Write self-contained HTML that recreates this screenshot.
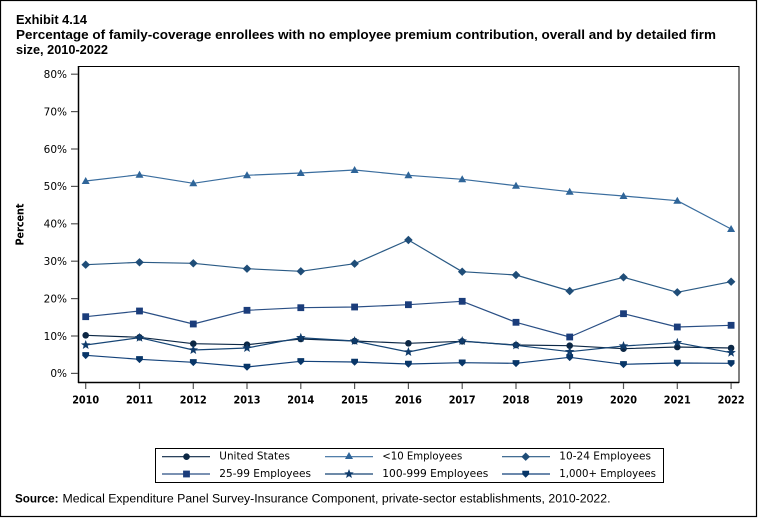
<!DOCTYPE html>
<html><head><meta charset="utf-8"><style>
html,body{margin:0;padding:0;background:#fff;}
svg{display:block;}
.t{font-family:"Liberation Sans",Arial,sans-serif;font-weight:bold;font-size:13px;fill:#000;}
.yl{font-family:"DejaVu Sans",Verdana,sans-serif;font-size:10.5px;fill:#000;}
.xl{font-family:"DejaVu Sans",Verdana,sans-serif;font-size:10.5px;font-weight:bold;fill:#000;}
.lg{font-family:"DejaVu Sans",Verdana,sans-serif;font-size:10.5px;fill:#000;}
.src{font-family:"Liberation Sans",Arial,sans-serif;font-size:11.5px;fill:#000;}
</style></head><body>
<svg width="758" height="518" viewBox="0 0 758 518" xmlns="http://www.w3.org/2000/svg">
<defs>
<circle id="mc" cx="0" cy="0" r="3.3"/>
<path id="mt" d="M0,-4 L4,3 L-4,3 Z"/>
<path id="md" d="M0,-4.2 L4.3,0 L0,4.2 L-4.3,0 Z"/>
<rect id="ms" x="-3.4" y="-3.4" width="6.8" height="6.8"/>
<path id="mst" d="M0,-5 L1.234,-1.699 L4.755,-1.545 L1.997,0.649 L2.939,4.045 L0,2.1 L-2.939,4.045 L-1.997,0.649 L-4.755,-1.545 L-1.234,-1.699 Z"/>
<path id="mv" d="M-3.4,-3.2 L3.4,-3.2 L3.4,0.4 L0,3.8 L-3.4,0.4 Z"/>
</defs>
<rect x="0.5" y="0.5" width="756" height="516" fill="#fff" stroke="#000" stroke-width="1.2"/>

<text class="t" x="16" y="24" textLength="71" lengthAdjust="spacingAndGlyphs">Exhibit 4.14</text>
<text class="t" x="16" y="39" textLength="700" lengthAdjust="spacingAndGlyphs">Percentage of family-coverage enrollees with no employee premium contribution, overall and by detailed firm</text>
<text class="t" x="16" y="54" textLength="92" lengthAdjust="spacingAndGlyphs">size, 2010-2022</text>

<!-- plot frame -->
<rect x="78.5" y="66.5" width="660.5" height="316" fill="none" stroke="#000" stroke-width="1"/>
<line x1="78.5" y1="66" x2="78.5" y2="383" stroke="#000" stroke-width="1.5"/>
<line x1="78" y1="382.5" x2="739" y2="382.5" stroke="#000" stroke-width="1.5"/>

<!-- y ticks -->
<g stroke="#555" stroke-width="1.2">
<line x1="71" y1="74.2" x2="78" y2="74.2"/>
<line x1="71" y1="111.6" x2="78" y2="111.6"/>
<line x1="71" y1="149" x2="78" y2="149"/>
<line x1="71" y1="186.4" x2="78" y2="186.4"/>
<line x1="71" y1="223.8" x2="78" y2="223.8"/>
<line x1="71" y1="261.2" x2="78" y2="261.2"/>
<line x1="71" y1="298.6" x2="78" y2="298.6"/>
<line x1="71" y1="336" x2="78" y2="336"/>
<line x1="71" y1="373.4" x2="78" y2="373.4"/>
</g>
<g class="yl" text-anchor="end">
<text x="67" y="78">80%</text>
<text x="67" y="115.4">70%</text>
<text x="67" y="152.8">60%</text>
<text x="67" y="190.2">50%</text>
<text x="67" y="227.6">40%</text>
<text x="67" y="265">30%</text>
<text x="67" y="302.4">20%</text>
<text x="67" y="339.8">10%</text>
<text x="67" y="377.2">0%</text>
</g>
<text class="xl" transform="translate(23.5,224.5) rotate(-90)" text-anchor="middle" font-size="10px" textLength="42" lengthAdjust="spacingAndGlyphs">Percent</text>

<!-- x ticks -->
<g stroke="#555" stroke-width="1.2">
<line x1="85.7" y1="383" x2="85.7" y2="389"/>
<line x1="139.5" y1="383" x2="139.5" y2="389"/>
<line x1="193.3" y1="383" x2="193.3" y2="389"/>
<line x1="247" y1="383" x2="247" y2="389"/>
<line x1="300.8" y1="383" x2="300.8" y2="389"/>
<line x1="354.6" y1="383" x2="354.6" y2="389"/>
<line x1="408.4" y1="383" x2="408.4" y2="389"/>
<line x1="462.2" y1="383" x2="462.2" y2="389"/>
<line x1="516" y1="383" x2="516" y2="389"/>
<line x1="569.7" y1="383" x2="569.7" y2="389"/>
<line x1="623.5" y1="383" x2="623.5" y2="389"/>
<line x1="677.3" y1="383" x2="677.3" y2="389"/>
<line x1="731.1" y1="383" x2="731.1" y2="389"/>
</g>
<g class="xl">
<text x="72.2" y="403.3" textLength="27" lengthAdjust="spacingAndGlyphs">2010</text>
<text x="126" y="403.3" textLength="27" lengthAdjust="spacingAndGlyphs">2011</text>
<text x="179.8" y="403.3" textLength="27" lengthAdjust="spacingAndGlyphs">2012</text>
<text x="233.5" y="403.3" textLength="27" lengthAdjust="spacingAndGlyphs">2013</text>
<text x="287.3" y="403.3" textLength="27" lengthAdjust="spacingAndGlyphs">2014</text>
<text x="341.1" y="403.3" textLength="27" lengthAdjust="spacingAndGlyphs">2015</text>
<text x="394.9" y="403.3" textLength="27" lengthAdjust="spacingAndGlyphs">2016</text>
<text x="448.7" y="403.3" textLength="27" lengthAdjust="spacingAndGlyphs">2017</text>
<text x="502.5" y="403.3" textLength="27" lengthAdjust="spacingAndGlyphs">2018</text>
<text x="556.2" y="403.3" textLength="27" lengthAdjust="spacingAndGlyphs">2019</text>
<text x="610" y="403.3" textLength="27" lengthAdjust="spacingAndGlyphs">2020</text>
<text x="663.8" y="403.3" textLength="27" lengthAdjust="spacingAndGlyphs">2021</text>
<text x="717.6" y="403.3" textLength="27" lengthAdjust="spacingAndGlyphs">2022</text>
</g>

<!-- series lines -->
<g fill="none" stroke-width="1.2" stroke-linejoin="round">
<polyline stroke="#3a6d9e" points="85.7,181 139.5,174.7 193.3,183.3 247,175.3 300.8,173 354.6,170 408.4,175.3 462.2,179.3 516,185.7 569.7,191.7 623.5,196 677.3,200.7 731.1,229"/>
<polyline stroke="#2a5a85" points="85.7,264.7 139.5,262.3 193.3,263.3 247,268.7 300.8,271.3 354.6,263.7 408.4,240 462.2,271.7 516,275 569.7,291 623.5,277.3 677.3,292.3 731.1,281.7"/>
<polyline stroke="#2a4f85" points="85.7,316.7 139.5,311 193.3,324 247,310.3 300.8,307.7 354.6,307 408.4,304.7 462.2,301.3 516,322.3 569.7,337 623.5,313.7 677.3,327 731.1,325.3"/>
<polyline stroke="#0d2846" points="85.7,335.3 139.5,337.3 193.3,343.7 247,344.7 300.8,339 354.6,341 408.4,343.3 462.2,341.3 516,345 569.7,345.7 623.5,348.7 677.3,347 731.1,348"/>
<polyline stroke="#164575" points="85.7,345 139.5,337.7 193.3,350 247,348 300.8,337.7 354.6,341 408.4,352 462.2,341 516,345.3 569.7,351.7 623.5,346 677.3,342.7 731.1,352.7"/>
<polyline stroke="#13427a" points="85.7,355.3 139.5,359.3 193.3,362.3 247,367 300.8,361.3 354.6,362 408.4,364 462.2,362.7 516,363.3 569.7,357.3 623.5,364.3 677.3,363 731.1,363.3"/>
</g>

<!-- markers -->
<g fill="#2f6599">
<use href="#mt" x="85.7" y="181"/><use href="#mt" x="139.5" y="174.7"/><use href="#mt" x="193.3" y="183.3"/><use href="#mt" x="247" y="175.3"/><use href="#mt" x="300.8" y="173"/><use href="#mt" x="354.6" y="170"/><use href="#mt" x="408.4" y="175.3"/><use href="#mt" x="462.2" y="179.3"/><use href="#mt" x="516" y="185.7"/><use href="#mt" x="569.7" y="191.7"/><use href="#mt" x="623.5" y="196"/><use href="#mt" x="677.3" y="200.7"/><use href="#mt" x="731.1" y="229"/>
</g>
<g fill="#1f4d78">
<use href="#md" x="85.7" y="264.7"/><use href="#md" x="139.5" y="262.3"/><use href="#md" x="193.3" y="263.3"/><use href="#md" x="247" y="268.7"/><use href="#md" x="300.8" y="271.3"/><use href="#md" x="354.6" y="263.7"/><use href="#md" x="408.4" y="240"/><use href="#md" x="462.2" y="271.7"/><use href="#md" x="516" y="275"/><use href="#md" x="569.7" y="291"/><use href="#md" x="623.5" y="277.3"/><use href="#md" x="677.3" y="292.3"/><use href="#md" x="731.1" y="281.7"/>
</g>
<g fill="#1b3d7b">
<use href="#ms" x="85.7" y="316.7"/><use href="#ms" x="139.5" y="311"/><use href="#ms" x="193.3" y="324"/><use href="#ms" x="247" y="310.3"/><use href="#ms" x="300.8" y="307.7"/><use href="#ms" x="354.6" y="307"/><use href="#ms" x="408.4" y="304.7"/><use href="#ms" x="462.2" y="301.3"/><use href="#ms" x="516" y="322.3"/><use href="#ms" x="569.7" y="337"/><use href="#ms" x="623.5" y="313.7"/><use href="#ms" x="677.3" y="327"/><use href="#ms" x="731.1" y="325.3"/>
</g>
<g fill="#0c2744">
<use href="#mc" x="85.7" y="335.3"/><use href="#mc" x="139.5" y="337.3"/><use href="#mc" x="193.3" y="343.7"/><use href="#mc" x="247" y="344.7"/><use href="#mc" x="300.8" y="339"/><use href="#mc" x="354.6" y="341"/><use href="#mc" x="408.4" y="343.3"/><use href="#mc" x="462.2" y="341.3"/><use href="#mc" x="516" y="345"/><use href="#mc" x="569.7" y="345.7"/><use href="#mc" x="623.5" y="348.7"/><use href="#mc" x="677.3" y="347"/><use href="#mc" x="731.1" y="348"/>
</g>
<g fill="#0f3b6b">
<use href="#mst" x="85.7" y="345"/><use href="#mst" x="139.5" y="337.7"/><use href="#mst" x="193.3" y="350"/><use href="#mst" x="247" y="348"/><use href="#mst" x="300.8" y="337.7"/><use href="#mst" x="354.6" y="341"/><use href="#mst" x="408.4" y="352"/><use href="#mst" x="462.2" y="341"/><use href="#mst" x="516" y="345.3"/><use href="#mst" x="569.7" y="351.7"/><use href="#mst" x="623.5" y="346"/><use href="#mst" x="677.3" y="342.7"/><use href="#mst" x="731.1" y="352.7"/>
</g>
<g fill="#083668">
<use href="#mv" x="85.7" y="355.3"/><use href="#mv" x="139.5" y="359.3"/><use href="#mv" x="193.3" y="362.3"/><use href="#mv" x="247" y="367"/><use href="#mv" x="300.8" y="361.3"/><use href="#mv" x="354.6" y="362"/><use href="#mv" x="408.4" y="364"/><use href="#mv" x="462.2" y="362.7"/><use href="#mv" x="516" y="363.3"/><use href="#mv" x="569.7" y="357.3"/><use href="#mv" x="623.5" y="364.3"/><use href="#mv" x="677.3" y="363"/><use href="#mv" x="731.1" y="363.3"/>
</g>

<!-- legend -->
<rect x="155.5" y="448.5" width="508" height="34" fill="none" stroke="#000" stroke-width="1"/>
<g stroke-width="1.2">
<line x1="162" y1="456.7" x2="210" y2="456.7" stroke="#0d2846"/>
<line x1="325" y1="456.7" x2="373" y2="456.7" stroke="#3a6d9e"/>
<line x1="502" y1="456.7" x2="550" y2="456.7" stroke="#2a5a85"/>
<line x1="162" y1="474" x2="210" y2="474" stroke="#2a4f85"/>
<line x1="325" y1="474" x2="373" y2="474" stroke="#164575"/>
<line x1="502" y1="474" x2="550" y2="474" stroke="#13427a"/>
</g>
<use href="#mc" x="186.5" y="456.7" fill="#0c2744"/>
<use href="#mt" x="349" y="456" fill="#2f6599"/>
<use href="#md" x="525.7" y="456.7" fill="#1f4d78"/>
<use href="#ms" x="186.5" y="474" fill="#1b3d7b"/>
<use href="#mst" x="349" y="474" fill="#0f3b6b"/>
<use href="#mv" x="525.7" y="474" fill="#083668"/>
<g class="lg">
<text x="219.3" y="459.5" textLength="70.7" lengthAdjust="spacingAndGlyphs">United States</text>
<text x="382.3" y="459.5" textLength="80" lengthAdjust="spacingAndGlyphs">&lt;10 Employees</text>
<text x="559.3" y="459.5" textLength="91.7" lengthAdjust="spacingAndGlyphs">10-24 Employees</text>
<text x="219.3" y="476.8" textLength="91.7" lengthAdjust="spacingAndGlyphs">25-99 Employees</text>
<text x="382.3" y="476.8" textLength="106" lengthAdjust="spacingAndGlyphs">100-999 Employees</text>
<text x="559.3" y="476.8" textLength="96.7" lengthAdjust="spacingAndGlyphs">1,000+ Employees</text>
</g>

<!-- source -->
<text class="src" x="15" y="502.6" font-weight="bold" textLength="43.5" lengthAdjust="spacingAndGlyphs">Source:</text>
<text class="src" x="62.5" y="502.6" textLength="548" lengthAdjust="spacingAndGlyphs">Medical Expenditure Panel Survey-Insurance Component, private-sector establishments, 2010-2022.</text>
</svg>
</body></html>
